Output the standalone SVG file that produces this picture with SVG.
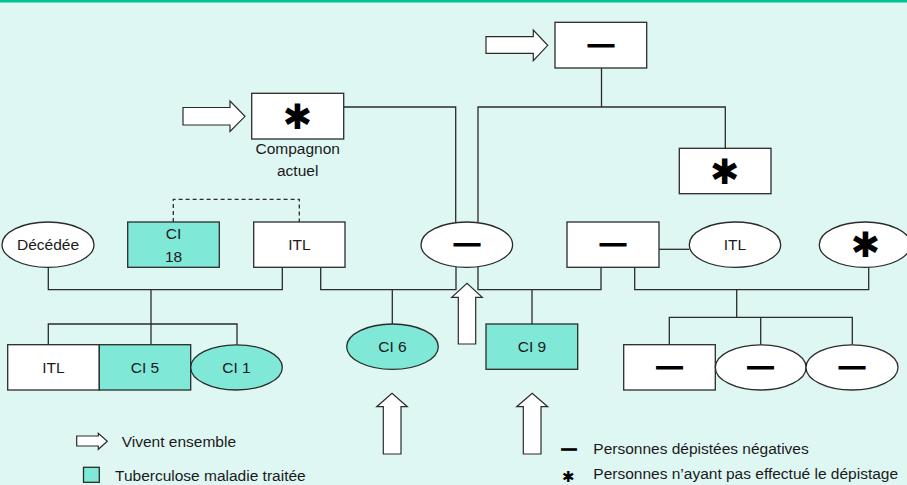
<svg xmlns="http://www.w3.org/2000/svg" width="907" height="485" viewBox="0 0 907 485">
<style>
.bx{fill:#ffffff;stroke:#2b2b2b;stroke-width:1.3}
.tl{fill:#80e8d6;stroke:#2b2b2b;stroke-width:1.3}
.ln{fill:none;stroke:#2b2b2b;stroke-width:1.3}
.ar{fill:#ffffff;stroke:#2b2b2b;stroke-width:1.2}
.t{font-family:"Liberation Sans",Arial,sans-serif;font-size:15.5px;fill:#1a1a1a;text-anchor:middle}
.lg{font-family:"Liberation Sans",Arial,sans-serif;font-size:15.5px;fill:#1a1a1a}
.mn{font-family:"Liberation Sans",Arial,sans-serif;font-size:26px;font-weight:bold;fill:#000;stroke:#000;stroke-width:1;text-anchor:middle}
.st{font-family:"DejaVu Sans",sans-serif;font-size:35px;fill:#000;text-anchor:middle}
</style>
<rect x="0" y="0" width="907" height="485" fill="#dff7f3"/>
<rect x="0" y="0" width="907" height="2.5" fill="#00c28f"/>

<g id="connectors">
<polyline class="ln" points="344,107 455.7,107 455.7,222"/>
<polyline class="ln" points="601.5,68 601.5,107"/>
<polyline class="ln" points="478,222 478,107 725.3,107 725.3,148"/>
<polyline class="ln" points="173.3,222 173.3,199.3 299.3,199.3 299.3,222" stroke-dasharray="4,3"/>
<polyline class="ln" points="48.3,267 48.3,289.7 282.3,289.7 282.3,267"/>
<polyline class="ln" points="151,289.7 151,344.7"/>
<polyline class="ln" points="48.3,344.7 48.3,324 237,324 237,344.7"/>
<polyline class="ln" points="320.7,267 320.7,289.7 456,289.7 456,267"/>
<polyline class="ln" points="392.3,289.7 392.3,324"/>
<polyline class="ln" points="478,267 478,289.7 601,289.7 601,267"/>
<polyline class="ln" points="532,289.7 532,324"/>
<polyline class="ln" points="659,249.3 689.3,249.3"/>
<polyline class="ln" points="634.7,267 634.7,289.7 868.7,289.7 868.7,267"/>
<polyline class="ln" points="736.7,289.7 736.7,317.3"/>
<polyline class="ln" points="669.3,344.7 669.3,317.3 852.3,317.3 852.3,344.7"/>
<polyline class="ln" points="760.7,317.3 760.7,344.7"/>
</g>

<g id="arrows">
<polygon class="ar" points="183,107.5 230,107.5 230,101 245,116.3 230,131.5 230,125 183,125"/>
<polygon class="ar" points="486,36.7 533.3,36.7 533.3,30 547.7,45.3 533.3,60.7 533.3,53.3 486,53.3"/>
<polygon class="ar" points="458.3,344 458.3,297.3 451.7,297.3 467,283.3 482.3,297.3 475.7,297.3 475.7,344"/>
<polygon class="ar" points="383.3,454 383.3,406.7 376.7,406.7 392,393.3 407.3,406.7 401,406.7 401,454"/>
<polygon class="ar" points="523.3,454 523.3,406.7 516.7,406.7 532.2,393.3 547.7,406.7 541,406.7 541,454"/>
</g>

<g id="n-top-minus">
<rect class="bx" x="555" y="22.3" width="91.7" height="45.7"/>
<text class="mn" x="601" y="52.5">—</text>
</g>
<g id="n-compagnon">
<rect class="bx" x="251.7" y="93.3" width="92" height="45.7"/>
<text class="st" x="297.5" y="128.8">✱</text>
<text class="t" x="297.7" y="153.5">Compagnon</text>
<text class="t" x="297.7" y="175.5">actuel</text>
</g>
<g id="n-top-star">
<rect class="bx" x="679.3" y="148.3" width="91.7" height="45.4"/>
<text class="st" x="724.7" y="184.3">✱</text>
</g>
<g id="n-decedee">
<ellipse class="bx" cx="48" cy="244.7" rx="46" ry="22.7"/>
<text class="t" x="48" y="250.3">Décédée</text>
</g>
<g id="n-ci18">
<rect class="tl" x="127.7" y="222" width="91.6" height="45.3"/>
<text class="t" x="173.5" y="239.3">CI</text>
<text class="t" x="173.5" y="261.8">18</text>
</g>
<g id="n-itl1">
<rect class="bx" x="253.7" y="222" width="91.3" height="45.3"/>
<text class="t" x="299.4" y="250.3">ITL</text>
</g>
<g id="n-center">
<ellipse class="bx" cx="466.8" cy="244.7" rx="45.8" ry="22.7"/>
<text class="mn" x="467" y="252">—</text>
</g>
<g id="n-mid-minus">
<rect class="bx" x="567" y="222" width="92" height="45.3"/>
<text class="mn" x="613" y="252">—</text>
</g>
<g id="n-itl2">
<ellipse class="bx" cx="735" cy="244.7" rx="45.7" ry="22.7"/>
<text class="t" x="735" y="250.3">ITL</text>
</g>
<g id="n-star-ell">
<ellipse class="bx" cx="865" cy="244.7" rx="45.7" ry="22.7"/>
<text class="st" x="865.3" y="257.3">✱</text>
</g>
<g id="n-itl3">
<rect class="bx" x="7.7" y="344.7" width="91.6" height="45.3"/>
<text class="t" x="53.5" y="373">ITL</text>
</g>
<g id="n-ci5">
<rect class="tl" x="99.3" y="344.7" width="91.4" height="45.3"/>
<text class="t" x="145" y="373">CI 5</text>
</g>
<g id="n-ci1">
<ellipse class="tl" cx="236.5" cy="367.4" rx="45.8" ry="22.6"/>
<text class="t" x="236.5" y="373">CI 1</text>
</g>
<g id="n-ci6">
<ellipse class="tl" cx="392.5" cy="346.7" rx="45.8" ry="22.7"/>
<text class="t" x="392.5" y="352.3">CI 6</text>
</g>
<g id="n-ci9">
<rect class="tl" x="486" y="324" width="91.7" height="45.3"/>
<text class="t" x="532" y="352.3">CI 9</text>
</g>
<g id="n-b1">
<rect class="bx" x="623.7" y="344.7" width="91.6" height="45.3"/>
<text class="mn" x="669.5" y="375">—</text>
</g>
<g id="n-b2">
<ellipse class="bx" cx="760.7" cy="367.4" rx="45.4" ry="22.6"/>
<text class="mn" x="760.5" y="375">—</text>
</g>
<g id="n-b3">
<ellipse class="bx" cx="852" cy="367.4" rx="46" ry="22.6"/>
<text class="mn" x="852" y="375">—</text>
</g>

<g id="legend">
<polygon class="ar" points="76.7,436 98.3,436 98.3,433.3 107.3,441.3 98.3,449.3 98.3,446 76.7,446"/>
<text class="lg" x="121.7" y="446.5">Vivent ensemble</text>
<rect class="tl" x="83.5" y="467.3" width="15.8" height="15"/>
<text class="lg" x="115" y="480.5">Tuberculose maladie traitée</text>
<text class="mn" x="569" y="453.5" style="font-size:15px">—</text>
<text class="lg" x="593.3" y="454">Personnes dépistées négatives</text>
<text class="st" x="568.3" y="481.5" style="font-size:15px">✱</text>
<text class="lg" x="593.3" y="479">Personnes n’ayant pas effectué le dépistage</text>
</g>
</svg>
